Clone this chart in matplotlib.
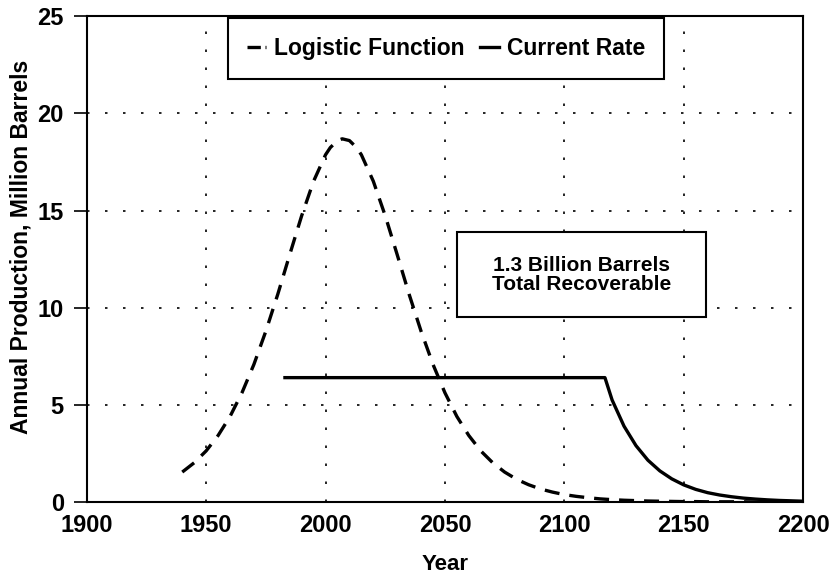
import matplotlib
matplotlib.use("Agg")
import matplotlib.pyplot as plt
from matplotlib.lines import Line2D
from matplotlib.patches import Rectangle

plt.rcParams['font.family'] = ['Liberation Sans', 'DejaVu Sans']
plt.rcParams['font.weight'] = 'bold'

# Logistic function series (year, million barrels)
logistic_years = [1940, 1945, 1950, 1955, 1960, 1965, 1970, 1975, 1980, 1985,
                  1990, 1995, 2000, 2002, 2005, 2007, 2010, 2013, 2015, 2020,
                  2025, 2030, 2035, 2040, 2045, 2050, 2055, 2060, 2065, 2070,
                  2075, 2080, 2085, 2090, 2095, 2100, 2105, 2110, 2115, 2120,
                  2125, 2130, 2135, 2140, 2145, 2150, 2155, 2160, 2165, 2170,
                  2175, 2180, 2185, 2190, 2195, 2200]
logistic_values = [1.54, 2.02, 2.63, 3.42, 4.40, 5.62, 7.08, 8.79, 10.69, 12.73,
                   14.73, 16.51, 17.87, 18.24, 18.60, 18.69, 18.60, 18.24, 17.87, 16.51,
                   14.73, 12.73, 10.69, 8.79, 7.08, 5.62, 4.40, 3.42, 2.63, 2.02,
                   1.54, 1.17, 0.89, 0.67, 0.51, 0.38, 0.29, 0.22, 0.16, 0.12,
                   0.09, 0.07, 0.05, 0.04, 0.03, 0.02, 0.02, 0.01, 0.01, 0.01,
                   0.01, 0.00, 0.00, 0.00, 0.00, 0.00]

# Current rate series
current_years = [1983, 2117, 2120, 2125, 2130, 2135, 2140, 2145, 2150, 2155,
                 2160, 2165, 2170, 2175, 2180, 2185, 2190, 2195, 2200]
current_values = [6.4, 6.4, 5.25, 3.90, 2.90, 2.15, 1.60, 1.19, 0.88, 0.65,
                  0.48, 0.36, 0.27, 0.20, 0.15, 0.11, 0.08, 0.06, 0.04]

x_ticks = [1900, 1950, 2000, 2050, 2100, 2150, 2200]
y_ticks = [0, 5, 10, 15, 20, 25]

fig = plt.figure(figsize=(8.34, 5.79), dpi=100)
ax = fig.add_axes([0.104, 0.133, 0.859, 0.839])

lw = 2.4
ax.plot(logistic_years, logistic_values, color='black', lw=lw,
        dashes=(4.5, 3.0), zorder=3)
ax.plot(current_years, current_values, color='black', lw=lw, zorder=3)

ax.set_xlim(1900, 2200)
ax.set_ylim(0, 25)
ax.set_xticks(x_ticks)
ax.set_yticks(y_ticks)
ax.tick_params(axis='x', length=0, pad=9, labelsize=17)
ax.tick_params(axis='y', length=9.5, width=1.2, pad=7, labelsize=17, direction='out')
for lab in ax.get_xticklabels() + ax.get_yticklabels():
    lab.set_fontweight('bold')

ax.grid(True, color='black', linestyle=(0, (1.5, 9.3)), linewidth=1.2)
for s in ax.spines.values():
    s.set_linewidth(1.5)

ax.set_xlabel('Year', fontsize=16, fontweight='bold')
ax.xaxis.set_label_coords(0.5, -0.107)
ax.set_ylabel('Annual Production, Million Barrels', fontsize=16.5, fontweight='bold')
ax.yaxis.set_label_coords(-0.076, 0.526)

handles = [Line2D([], [], color='black', lw=lw, dashes=(4.0, 1.4, 1.0, 20)),
           Line2D([], [], color='black', lw=lw)]
leg = ax.legend(handles, ['Logistic Function', 'Current Rate'], ncol=2,
                loc='center', bbox_to_anchor=(0.5015, 0.934),
                prop={'size': 16.5, 'weight': 'bold'},
                handlelength=0.85, handletextpad=0.35, columnspacing=0.65,
                borderpad=0.82, borderaxespad=0, fancybox=False, framealpha=1)
leg.get_frame().set_edgecolor('black')
leg.get_frame().set_linewidth(1.5)

ax.add_patch(Rectangle((0.517, 0.3807), 0.3475, 0.1749, transform=ax.transAxes,
                       facecolor='white', edgecolor='black', linewidth=1.5, zorder=5))
ax.text(0.6907, 0.468, '1.3 Billion Barrels\nTotal Recoverable', transform=ax.transAxes,
        ha='center', va='center', fontsize=15, fontweight='bold', linespacing=1.0, zorder=6)

fig.savefig('out.png', dpi=100)
